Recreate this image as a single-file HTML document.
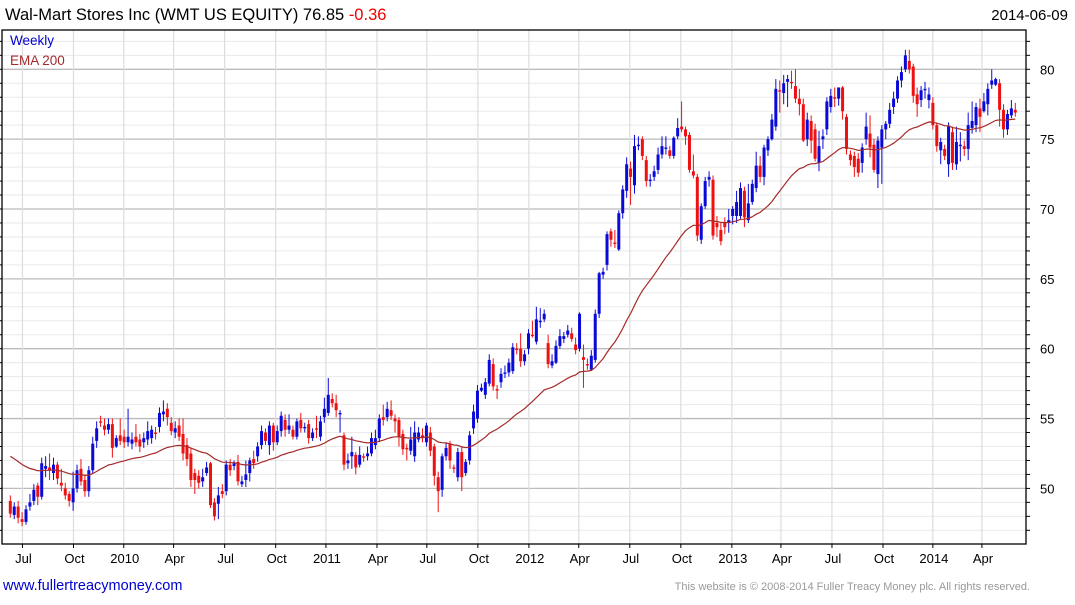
<!DOCTYPE html>
<html><head><meta charset="utf-8"><style>
body{margin:0;background:#fff;width:1075px;height:600px;overflow:hidden;font-family:"Liberation Sans",sans-serif}
svg text{font-family:"Liberation Sans",sans-serif}
</style></head><body>
<svg id="chart" width="1075" height="600" xmlns="http://www.w3.org/2000/svg">
<text x="5" y="20" font-size="16.5" fill="#000">Wal-Mart Stores Inc (WMT US EQUITY) 76.85 <tspan fill="#e00">-0.36</tspan></text>
<text x="1068" y="20" font-size="15" text-anchor="end" fill="#000">2014-06-09</text>
<g id="grid"></g>
<g id="marks"></g>
<g id="axes"></g>
<text x="10" y="45" font-size="13.5" fill="#0000cc">Weekly</text>
<text x="10" y="65" font-size="13.5" fill="#a52a2a">EMA 200</text>
<text x="3" y="590" font-size="14.5" fill="#0000cc">www.fullertreacymoney.com</text>
<text x="1030" y="590" font-size="11" text-anchor="end" fill="#999">This website is © 2008-2014 Fuller Treacy Money plc. All rights reserved.</text>
</svg>
<script>
const opens=[49.1,48.1,48.7,47.8,47.6,48.7,49.1,50.2,49.4,51.4,51.5,51.1,51.7,50.4,50.0,49.6,49.0,50.0,51.4,50.6,49.8,51.3,53.4,54.8,54.5,54.2,54.6,53.0,53.8,53.7,53.3,53.2,53.7,53.5,53.3,53.5,53.6,54.0,54.4,55.3,55.7,54.7,54.0,54.5,53.9,53.1,52.5,51.1,50.9,50.5,51.1,51.8,49.0,48.9,49.8,49.8,51.7,51.6,51.9,50.3,50.6,51.1,52.1,52.3,53.1,54.0,53.1,54.5,53.3,54.1,54.9,54.2,54.2,53.7,54.9,54.3,54.6,53.6,54.3,53.7,55.1,55.4,56.4,56.1,55.3,53.8,51.8,52.3,52.4,51.7,52.3,52.3,52.5,53.1,53.6,55.1,55.1,55.6,55.0,54.9,53.9,52.9,52.7,52.3,53.5,53.8,53.3,54.0,53.0,50.8,49.9,52.3,53.2,51.5,50.8,52.6,51.1,52.0,54.3,55.0,57.0,56.7,57.5,58.9,57.1,57.6,58.2,58.3,58.4,60.0,60.0,59.1,60.0,61.0,60.5,61.9,62.1,60.4,58.8,59.0,60.2,60.7,61.0,61.1,60.3,60.0,59.4,58.9,58.5,59.2,62.5,65.3,66.0,68.4,67.6,67.1,69.7,71.3,72.9,71.7,74.5,75.0,73.5,72.0,72.3,72.8,73.9,74.3,74.2,73.8,75.2,75.9,75.7,75.3,72.7,72.3,67.8,70.2,72.1,72.1,69.0,68.5,69.0,69.0,69.5,69.5,69.5,71.3,69.2,70.5,71.5,73.1,72.3,74.2,75.0,75.9,78.5,78.3,79.1,79.1,78.8,77.9,77.5,75.0,76.3,75.7,73.3,75.0,75.7,77.3,78.0,77.9,78.7,76.6,73.9,73.8,73.6,73.3,75.0,75.4,74.6,72.5,74.4,75.7,76.1,77.3,77.9,79.2,80.0,80.6,80.2,78.2,77.8,78.5,77.8,77.6,76.0,74.2,74.3,73.2,75.5,73.2,74.5,74.5,74.3,75.8,76.0,77.2,77.0,77.5,78.9,78.9,79.0,77.1,75.7,76.7,77.1];
const closes=[48.2,48.7,47.9,47.6,48.5,49.0,49.9,49.4,51.8,51.6,51.3,51.7,50.7,50.2,49.5,49.1,50.0,51.3,50.5,49.8,51.3,53.2,54.3,54.7,54.2,54.6,52.9,53.6,53.4,53.3,53.7,53.5,53.3,53.0,53.6,54.1,54.2,53.9,55.4,55.5,55.1,54.1,54.3,53.7,52.5,52.1,50.6,50.6,50.4,50.8,51.5,48.8,48.0,49.5,49.6,51.7,51.3,51.8,50.5,50.5,51.0,52.0,51.8,53.0,54.1,53.4,54.5,53.3,54.1,55.2,54.2,54.5,53.7,54.8,54.3,54.4,53.6,54.0,54.2,54.8,55.7,56.7,56.1,55.6,55.4,51.7,52.0,52.6,51.5,52.4,52.2,52.5,53.6,53.6,55.0,54.9,55.7,55.2,54.8,53.7,52.8,52.8,53.5,54.0,54.0,53.6,54.5,52.7,50.9,49.8,52.3,52.9,52.0,51.4,52.6,50.8,51.9,53.8,55.5,57.0,57.2,57.6,59.2,57.3,57.0,58.2,58.3,59.0,60.1,59.9,59.1,59.6,61.1,60.9,62.1,62.0,62.5,58.9,59.1,60.2,60.9,60.9,61.3,60.7,59.9,62.5,59.2,58.8,59.5,62.5,65.4,65.5,68.2,67.8,67.5,69.7,71.4,73.2,72.3,74.5,74.6,73.8,72.0,72.1,72.7,73.9,74.5,74.4,73.8,75.1,75.8,75.7,75.2,72.8,72.4,68.1,70.2,72.0,72.3,68.1,68.7,67.7,68.7,69.2,70.0,70.5,71.5,69.4,70.4,71.8,73.1,72.3,74.4,75.0,76.4,78.6,78.4,79.0,79.3,79.0,77.9,77.5,74.9,76.4,74.9,73.6,74.5,75.2,77.7,78.1,77.9,78.7,77.0,74.3,73.5,73.0,72.6,74.4,75.9,74.4,72.8,74.9,75.7,76.1,77.1,77.9,79.2,79.8,81.0,80.0,78.1,77.5,78.5,78.6,78.2,76.0,74.5,74.8,73.8,75.9,73.3,74.8,74.6,74.3,76.0,76.3,77.3,76.6,77.7,78.6,79.2,79.3,77.1,75.7,76.8,77.2,76.9];
const highs=[49.5,49.0,49.1,48.3,48.8,49.6,50.3,50.4,52.2,52.3,52.5,52.2,51.9,51.4,50.4,49.8,51.2,51.7,52.1,51.0,51.6,53.7,54.8,55.2,55.0,55.0,55.0,53.8,55.0,54.2,55.7,54.0,54.6,53.9,54.0,54.8,54.5,54.4,55.8,56.3,56.1,55.1,54.8,55.0,55.0,53.6,52.9,51.4,51.3,51.4,51.9,51.9,49.3,50.1,50.3,52.0,52.1,52.0,52.4,50.9,52.0,52.2,52.7,53.3,54.5,54.3,54.8,54.7,54.5,55.5,55.3,55.3,54.5,55.0,55.4,54.7,54.9,54.3,55.2,55.2,56.5,57.9,56.8,56.7,55.6,54.0,52.5,53.7,52.6,53.0,52.5,53.0,54.0,54.2,55.3,56.0,56.2,56.3,55.3,55.1,54.2,53.2,54.4,54.8,54.4,54.3,54.7,54.4,53.2,51.2,52.5,53.3,53.4,51.7,52.9,53.0,52.1,54.1,56.0,57.4,57.5,57.9,59.6,59.3,57.4,58.6,58.8,59.3,60.4,60.4,61.1,59.9,61.4,62.0,63.0,62.9,62.8,61.0,59.6,60.6,61.4,61.2,61.7,61.5,60.8,62.6,60.3,59.3,59.9,62.8,65.5,65.8,68.4,68.6,68.5,69.9,71.7,73.7,73.4,75.3,75.2,75.2,73.8,72.5,73.1,74.4,75.2,75.2,74.5,75.2,76.5,77.7,75.9,75.5,73.9,72.5,70.4,72.3,72.7,72.4,69.5,69.0,69.4,70.0,70.2,71.3,71.9,71.6,71.8,72.1,74.1,73.8,74.6,75.2,76.8,79.3,79.2,79.6,79.6,79.9,80.0,78.6,77.9,76.9,76.7,76.1,75.6,75.7,78.0,78.6,78.7,78.7,78.8,76.8,74.2,74.1,74.0,74.7,76.9,76.7,75.0,75.2,76.0,76.3,77.6,78.4,79.5,80.2,81.4,81.4,80.4,78.7,78.8,79.1,78.7,78.0,76.2,75.1,74.6,76.2,75.9,75.9,75.5,74.9,76.9,77.7,77.6,77.9,78.3,79.0,80.0,79.4,79.3,77.5,77.1,77.8,77.6];
const lows=[47.9,47.8,47.5,47.3,47.4,48.4,48.8,48.8,49.2,50.8,50.6,50.6,50.3,49.8,49.2,48.7,48.4,49.7,50.2,49.4,49.4,51.1,52.9,54.4,53.8,53.9,52.2,52.9,53.1,52.9,53.0,52.8,53.0,52.6,52.9,53.1,53.2,53.5,54.0,54.8,54.5,53.8,53.6,53.4,52.0,51.6,50.1,49.6,50.0,50.1,50.9,48.6,47.7,47.8,49.3,49.5,50.9,51.3,50.2,50.1,50.1,50.5,51.4,51.9,52.8,53.1,52.4,52.7,53.1,53.7,53.7,53.9,53.5,53.5,54.0,54.0,53.2,53.4,53.6,53.4,54.7,55.2,55.8,55.1,54.0,51.3,51.4,51.4,51.0,51.5,51.9,52.0,52.3,52.8,53.3,54.5,54.8,54.9,54.0,53.0,52.4,52.0,52.4,51.9,53.3,53.3,53.0,52.3,50.2,48.3,49.4,52.0,51.4,51.1,50.5,49.8,50.9,51.7,53.9,54.7,56.9,56.4,57.3,57.0,56.4,57.2,57.9,58.0,58.2,59.6,58.7,58.8,59.6,60.8,60.3,61.5,61.9,58.6,58.6,58.9,60.0,60.4,60.8,60.5,59.6,59.8,57.2,58.5,58.4,59.0,62.2,65.0,65.6,67.3,67.2,67.0,69.3,70.8,70.3,71.1,74.2,73.5,71.6,71.6,72.0,72.5,73.6,73.9,73.6,73.6,75.0,75.5,74.6,72.6,72.2,67.7,67.5,70.0,71.6,67.8,68.0,67.4,68.2,68.3,68.9,69.0,69.3,68.7,69.0,70.3,71.2,71.9,71.7,73.8,74.9,75.6,76.9,77.5,77.3,78.6,77.6,76.7,74.8,74.5,74.0,73.4,72.7,74.3,75.3,76.9,77.3,77.4,76.4,73.9,73.1,72.3,72.3,72.6,74.6,73.7,72.6,71.5,71.8,75.0,75.8,76.8,77.6,78.7,79.8,79.7,77.6,76.6,77.3,77.9,77.2,75.7,74.1,73.2,73.5,72.3,72.8,72.8,73.4,73.8,73.5,75.4,75.5,75.5,76.9,76.7,78.6,78.8,75.9,75.1,75.3,76.5,76.6];
const emaSeed=[52.3];
const emaPeriodWeeks=[40];
const yTicks=[50,55,60,65,70,75,80];
const xTickLabels=["Jul","Oct","2010","Apr","Jul","Oct","2011","Apr","Jul","Oct","2012","Apr","Jul","Oct","2013","Apr","Jul","Oct","2014","Apr"];
const xTickWeek=[3.1,16.1,28.9,41.6,54.6,67.6,80.4,93.4,106.1,119.1,132.1,144.8,157.8,170.8,183.8,196.3,209.3,222.3,235.0,247.5];

const L=2,T=30,R=1026,B=544;
const NS='http://www.w3.org/2000/svg';
const n=closes.length;
function xs(i){return 10.3+i*(1005/(n-1));}
function ys(p){return 69.3+(80-p)*13.97;}
function mk(tag,attrs,parent){const e=document.createElementNS(NS,tag);for(const k in attrs)e.setAttribute(k,attrs[k]);parent.appendChild(e);return e;}
const grid=document.getElementById('grid'),marks=document.getElementById('marks'),axes=document.getElementById('axes');
// horizontal grid
for(let p=47;p<=83;p++){const y=ys(p);if(y<T||y>B)continue;
 const major=p%5===0;
 const g=mk('line',{x1:L,x2:R,y1:y,y2:y,stroke:major?'#bbb':'#eaeaea','stroke-width':major?1.3:1},grid);
 
 
 const t=mk('line',{x1:R,x2:R+4,y1:y,y2:y,stroke:'#000'},axes);
 
 
 const t2=mk('line',{x1:0,x2:L,y1:y,y2:y,stroke:'#000'},axes);
 
 
}
yTicks.forEach(v=>{const t=mk('text',{x:1040,y:ys(v)+5,'font-size':13,fill:'#000'},axes);t.textContent=v;
 
 });
xTickLabels.forEach((lab,k)=>{const x=xs(xTickWeek[k]);
 const g=mk('line',{x1:x,x2:x,y1:T,y2:B,stroke:'#ddd','stroke-width':1.2},grid);
 
 
 const tk=mk('line',{x1:x,x2:x,y1:B,y2:B+4,stroke:'#000'},axes);
 
 
 const t=mk('text',{x:x+1,y:563,'font-size':13,'text-anchor':'middle',fill:'#000'},axes);t.textContent=lab;
 
 });
const fr=mk('rect',{x:L,y:T,width:R-L,height:B-T,fill:'none',stroke:'#000','stroke-width':1.3},axes);


// candles
for(let i=0;i<n;i++){const o=opens[i],c=closes[i],x=xs(i);const up=c>=o;const col=up?'#0a0ad8':'#ee1111';
 const w=mk('line',{x1:x,x2:x,y1:ys(highs[i]),y2:ys(lows[i]),stroke:col,'stroke-width':1},marks);
 
 
 const top=ys(Math.max(o,c)),bot=ys(Math.min(o,c));
 const b=mk('rect',{x:x-1.5,y:top,width:3,height:Math.max(bot-top,1.2),fill:col},marks);
 
 }
// EMA
const a=2/(emaPeriodWeeks[0]+1);let e=emaSeed[0];const pts=[];
for(let i=0;i<n;i++){if(i>0)e=e+a*(closes[i]-e);pts.push(xs(i).toFixed(1)+','+ys(e).toFixed(1));}
const pl=mk('polyline',{points:pts.join(' '),fill:'none',stroke:'#a52a2a','stroke-width':1.2},marks);


</script>
</body></html>
